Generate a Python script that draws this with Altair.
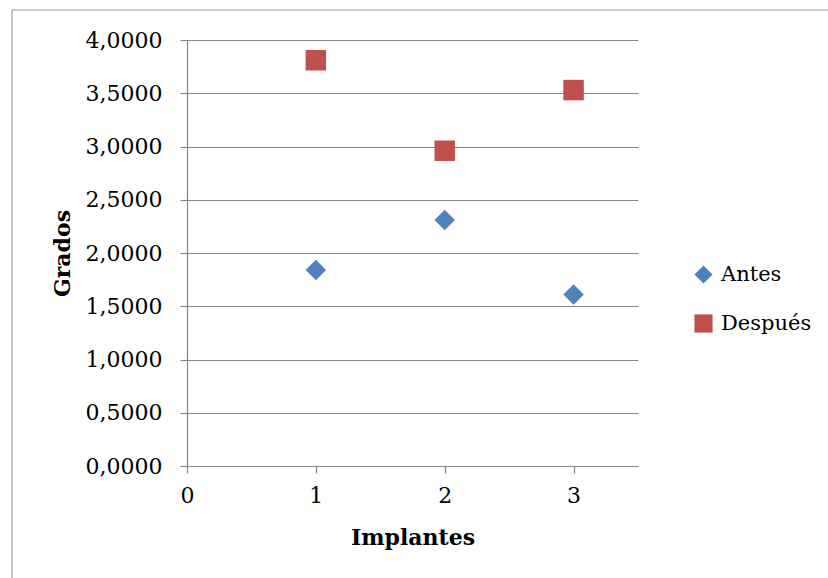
import altair as alt
import pandas as pd

implantes = [1, 2, 3]
antes = [1.84, 2.31, 1.61]
despues = [3.81, 2.96, 3.53]
series = ["Antes", "Después"]
y_ticks = [0, 0.5, 1, 1.5, 2, 2.5, 3, 3.5, 4]
x_ticks = [0, 1, 2, 3]

rows = []
for i, a, d in zip(implantes, antes, despues):
    rows.append({"Implantes": i, "Grados": a, "Serie": "Antes"})
    rows.append({"Implantes": i, "Grados": d, "Serie": "Después"})
df = pd.DataFrame(rows)

FONT = "DejaVu Serif"
GRID = "#878787"
FRAME = "#9a9a9a"

legend = alt.Legend(title=None, orient="none", legendX=506, legendY=224,
                    rowPadding=27, labelOffset=7, symbolSize=330,
                    labelFont=FONT, labelFontSize=21, labelColor="black",
                    symbolStrokeWidth=0)

points = alt.Chart(df).mark_point(filled=True, opacity=1, size=420, strokeWidth=0).encode(
    x=alt.X("Implantes:Q",
            scale=alt.Scale(domain=[0, 3.5], nice=False, zero=False),
            axis=alt.Axis(values=x_ticks, title="Implantes", grid=False,
                          labelFlush=False, labelPadding=12, titlePadding=21, format="d")),
    y=alt.Y("Grados:Q",
            scale=alt.Scale(domain=[0, 4], nice=False),
            axis=alt.Axis(values=y_ticks, title="Grados", grid=True,
                          labelExpr="replace(format(datum.value, '.4f'), '.', ',')",
                          labelPadding=18, titlePadding=11)),
    color=alt.Color("Serie:N", scale=alt.Scale(domain=series, range=["#4F81BD", "#C0504D"]),
                    legend=legend),
    shape=alt.Shape("Serie:N", scale=alt.Scale(domain=series, range=["diamond", "square"]),
                    legend=legend),
)

frame_df = pd.DataFrame({"k": [0]})
left_edge = alt.Chart(frame_df).mark_rule(color=FRAME, strokeWidth=1.2).encode(
    x=alt.value(-175), y=alt.value(-30), y2=alt.value(540))
top_edge = alt.Chart(frame_df).mark_rule(color=FRAME, strokeWidth=1.2).encode(
    x=alt.value(-175), x2=alt.value(645), y=alt.value(-30))

chart = alt.layer(left_edge, top_edge, points).properties(
    width=451, height=426,
    autosize=alt.AutoSizeParams(type="none"),
    padding={"left": 187, "top": 40, "right": 190, "bottom": 112},
    background="white",
).configure_view(stroke=None).configure_axis(
    domainColor=GRID, domainWidth=1.2, tickColor=GRID, tickWidth=1.2, tickSize=7,
    gridColor=GRID, gridWidth=1.2, gridOpacity=1,
    labelFont=FONT, labelFontSize=22, labelColor="black",
    titleFont=FONT, titleFontSize=22, titleFontWeight="bold", titleColor="black",
)

chart.save("out.html", embed_options={"renderer": "svg", "actions": False})
